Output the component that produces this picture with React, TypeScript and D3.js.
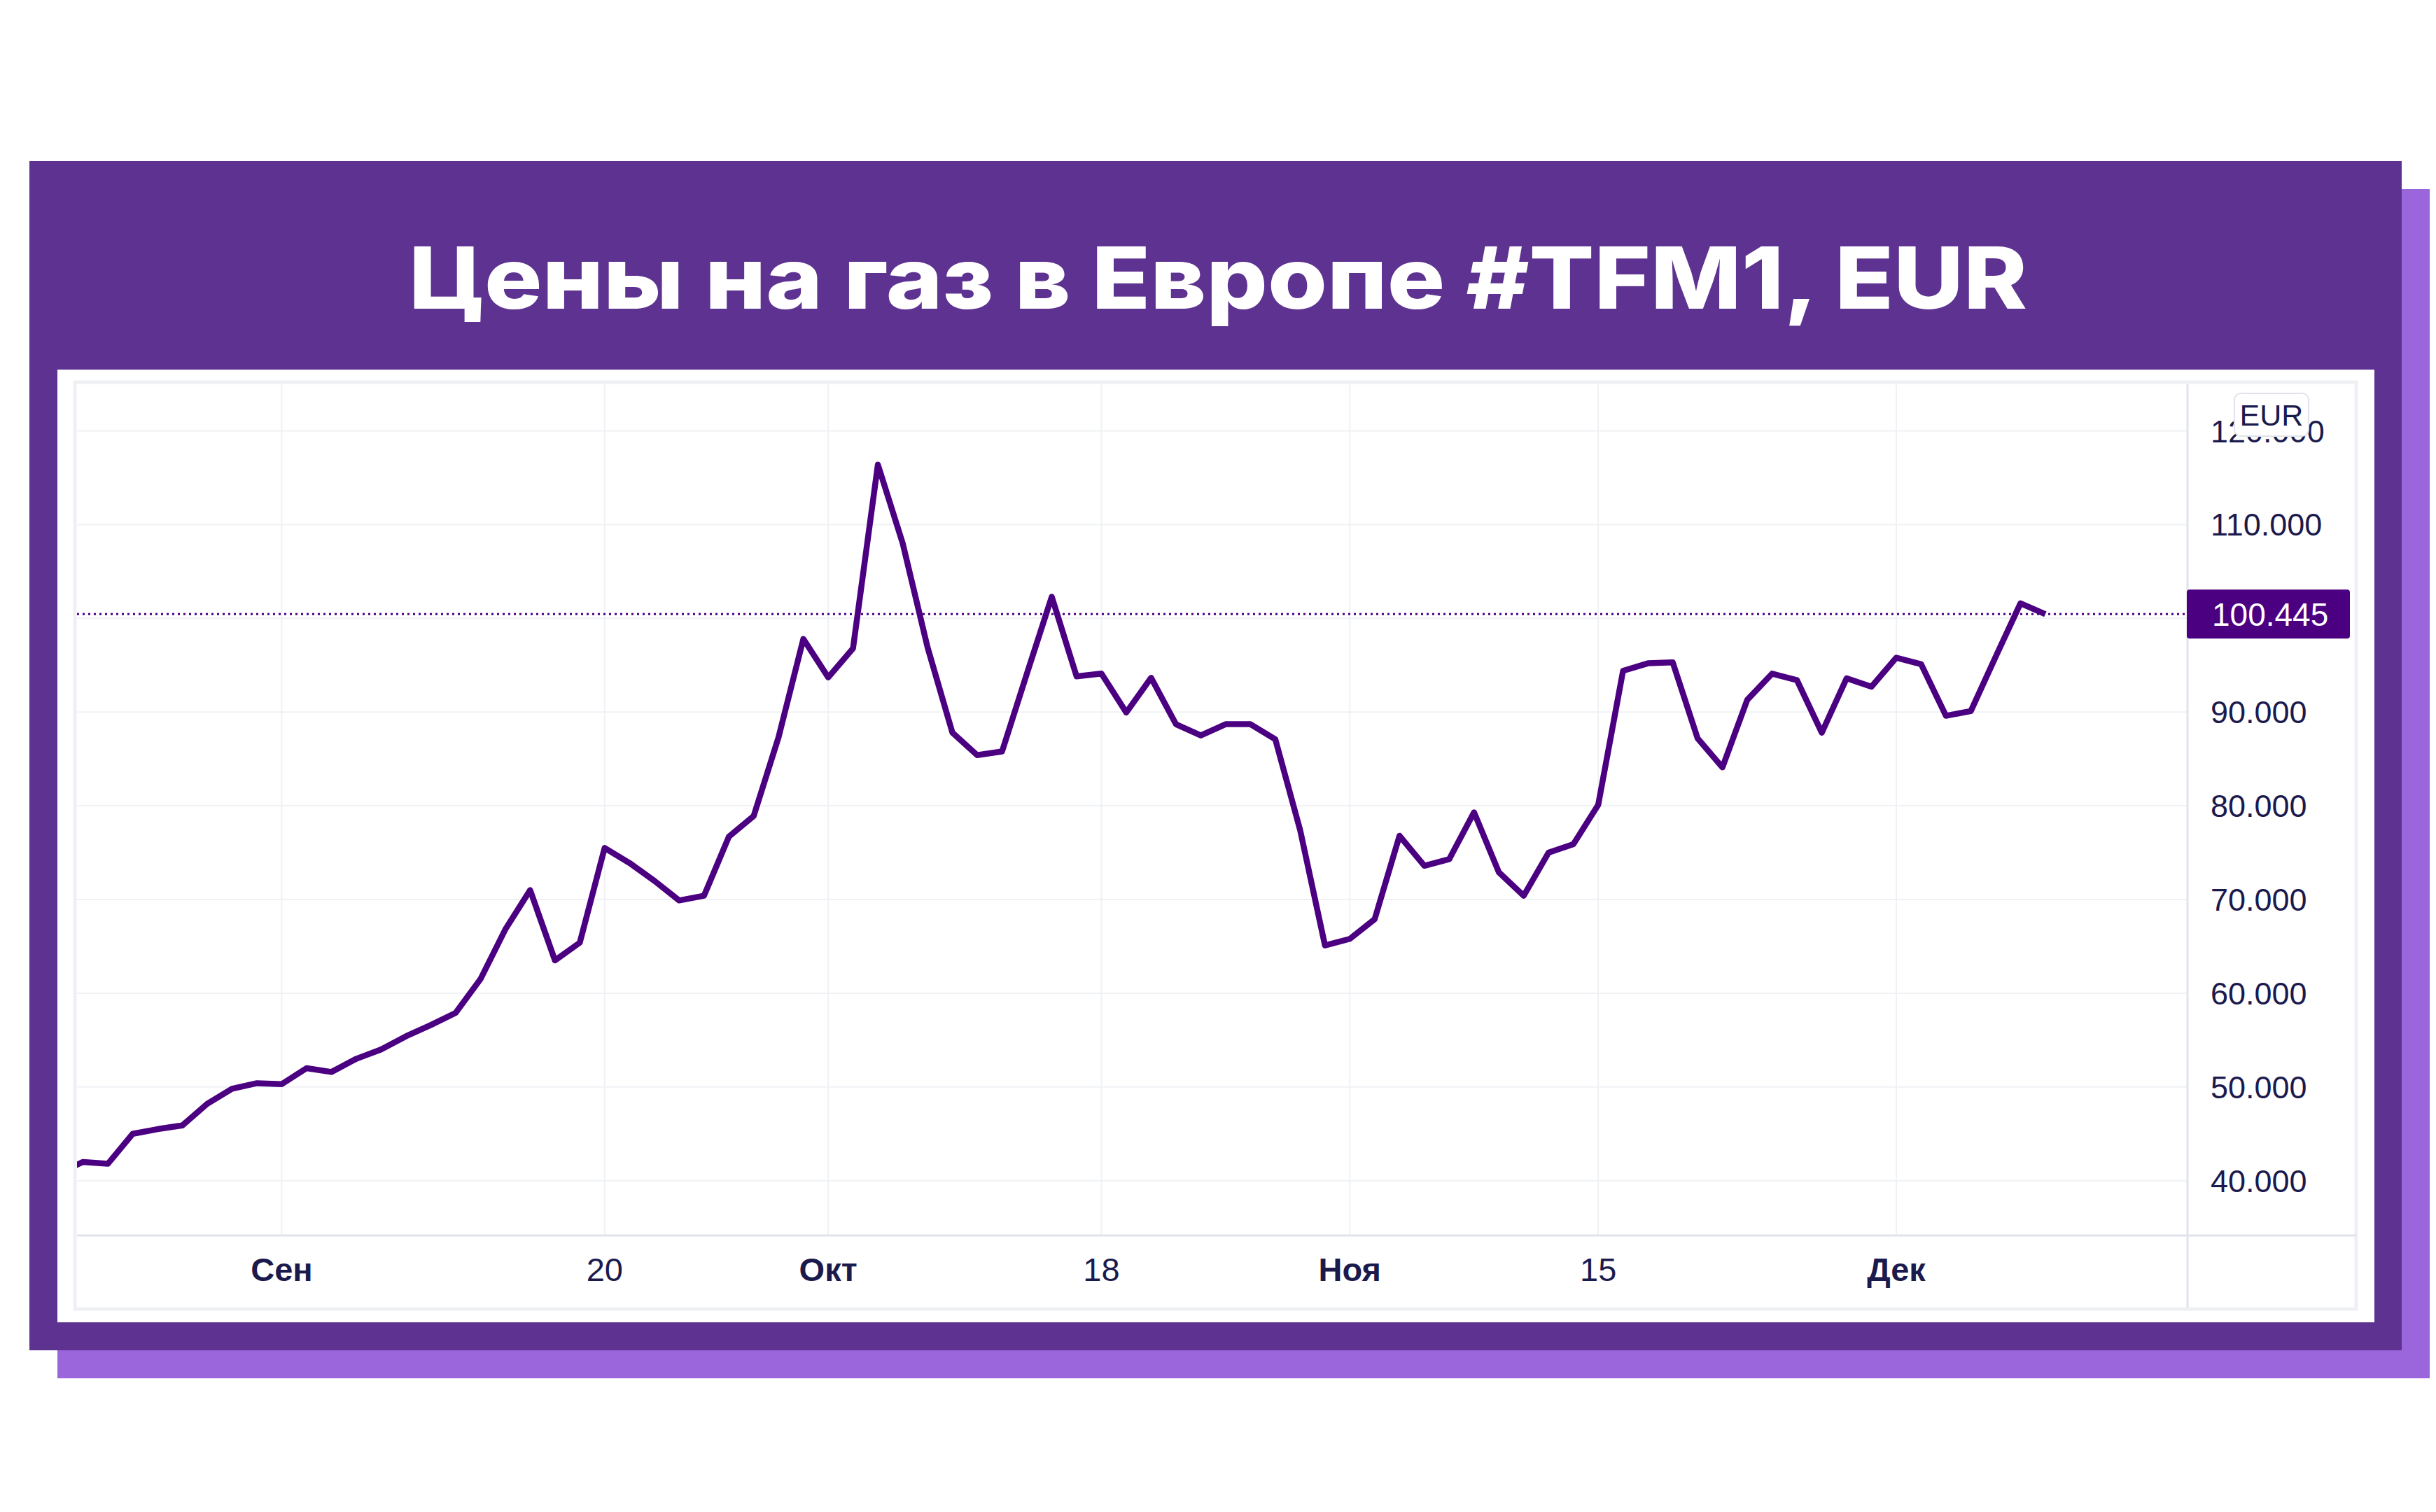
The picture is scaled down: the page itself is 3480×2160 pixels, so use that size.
import React from "react";
import * as d3 from "d3";

// ---- data ----
const dates: string[] = [
  "2021-08-19", "2021-08-20", "2021-08-23", "2021-08-24", "2021-08-25", "2021-08-26", "2021-08-27", "2021-08-30", "2021-08-31",
  "2021-09-01", "2021-09-02", "2021-09-03", "2021-09-06", "2021-09-07", "2021-09-08", "2021-09-09", "2021-09-10",
  "2021-09-13", "2021-09-14", "2021-09-15", "2021-09-16", "2021-09-17", "2021-09-20", "2021-09-21", "2021-09-22",
  "2021-09-23", "2021-09-24", "2021-09-27", "2021-09-28", "2021-09-29", "2021-09-30",
  "2021-10-01", "2021-10-04", "2021-10-05", "2021-10-06", "2021-10-07", "2021-10-08", "2021-10-11", "2021-10-12",
  "2021-10-13", "2021-10-14", "2021-10-15", "2021-10-18", "2021-10-19", "2021-10-20", "2021-10-21", "2021-10-22",
  "2021-10-25", "2021-10-26", "2021-10-27", "2021-10-28", "2021-10-29",
  "2021-11-01", "2021-11-02", "2021-11-03", "2021-11-04", "2021-11-05", "2021-11-08", "2021-11-09", "2021-11-10",
  "2021-11-11", "2021-11-12", "2021-11-15", "2021-11-16", "2021-11-17", "2021-11-18", "2021-11-19", "2021-11-22",
  "2021-11-23", "2021-11-24", "2021-11-25", "2021-11-26", "2021-11-29", "2021-11-30",
  "2021-12-01", "2021-12-02", "2021-12-03", "2021-12-06", "2021-12-07", "2021-12-08", "2021-12-09",
];

const prices: number[] = [
  40.8, 42.0, 41.8, 45.0, 45.5, 45.9, 48.2, 49.8, 50.4,
  50.3, 52.0, 51.6, 53.0, 54.0, 55.4, 56.6, 57.9,
  61.5, 66.8, 71.0, 63.5, 65.4, 75.5, 73.9, 72.0,
  69.9, 70.4, 76.7, 78.9, 87.3, 97.8,
  93.7, 96.8, 116.4, 108.0, 96.9, 87.8, 85.4, 85.8,
  94.1, 102.3, 93.8, 94.1, 89.95, 93.65, 88.7, 87.5,
  88.7, 88.7, 87.1, 77.4, 65.1,
  65.8, 67.9, 76.8, 73.6, 74.3, 79.3, 72.9, 70.4,
  75.0, 75.9, 80.1, 94.4, 95.2, 95.3, 87.2, 84.1,
  91.3, 94.1, 93.4, 87.8, 93.6, 92.7,
  95.8, 95.1, 89.6, 90.1, 95.9, 101.6, 100.445,
];

const xTickDates: string[] = ["2021-09-01", "2021-09-20", "2021-10-01", "2021-10-18", "2021-11-01", "2021-11-15", "2021-12-01"];
const xTickLabels: string[] = ["Сен", "20", "Окт", "18", "Ноя", "15", "Дек"];
const xTickIsMonth: boolean[] = [true, false, true, false, true, false, true];

const yTicks: number[] = [40, 50, 60, 70, 80, 90, 100, 110, 120];

const titleText = "Цены на газ в Европе #TFM1, EUR";
const currencyText = "EUR";

// ---- component ----
export default function App() {
  const W = 3480;
  const H = 2160;

  const plotLeft = 110;
  const plotRight = 3125;
  const plotTop = 549;
  const plotBottom = 1764;

  const x = d3.scalePoint<string>().domain(dates).range([83.1, 2921.9]);
  const y = d3.scaleLinear().domain([40, 120]).range([1686.7, 615.5]);

  const data = dates.map((d, i) => ({ d, v: prices[i] }));
  const line = d3
    .line<{ d: string; v: number }>()
    .x((p) => x(p.d) as number)
    .y((p) => y(p.v));

  const last = prices[prices.length - 1];
  const lastY = y(last);
  const fmt = d3.format(".3f");

  const axisFont = "'Liberation Sans', Arial, sans-serif";
  const textColor = "#1b1a4d";
  const lineColor = "#4b0082";

  return (
    <svg
      width={W}
      height={H}
      viewBox={`0 0 ${W} ${H}`}
      style={{ position: "absolute", left: 0, top: 0, background: "#ffffff" }}
    >
      <defs>
        <clipPath id="plotClip">
          <rect x={plotLeft} y={plotTop} width={plotRight - plotLeft} height={plotBottom - plotTop} />
        </clipPath>
      </defs>
      <rect x={0} y={0} width={W} height={H} fill="#ffffff" />
      {/* shadow */}
      <rect x={82} y={270} width={3389} height={1699} fill="#9b66db" />
      {/* main frame */}
      <rect x={42} y={230} width={3389} height={1699} fill="#5e3291" />
      {/* title */}
      <text
        x={584}
        y={441}
        textLength={2312}
        lengthAdjust="spacingAndGlyphs"
        fill="#ffffff"
        style={{ fontFamily: "Inter, 'Open Sans', sans-serif", fontWeight: 800, fontSize: 122 }}
      >
        {titleText}
      </text>
      {/* white panel */}
      <rect x={82} y={528} width={3310} height={1361} fill="#ffffff" />
      {/* chart border */}
      <rect x={107} y={546} width={3259} height={1324} fill="#ffffff" stroke="#eef0f4" strokeWidth={5} />

      {/* gridlines */}
      {yTicks.map((t) => (
        <line key={"gy" + t} x1={plotLeft} x2={plotRight} y1={y(t)} y2={y(t)} stroke="#eff1f4" strokeWidth={2} />
      ))}
      {xTickDates.map((d) => (
        <line key={"gx" + d} x1={x(d)} x2={x(d)} y1={plotTop} y2={plotBottom} stroke="#eff1f4" strokeWidth={2} />
      ))}

      {/* last price dotted line */}
      <line
        x1={plotLeft}
        x2={plotRight}
        y1={lastY}
        y2={lastY}
        stroke={lineColor}
        strokeWidth={3}
        strokeDasharray="3 5"
      />

      {/* price line */}
      <g clipPath="url(#plotClip)">
        <path
          d={line(data) || ""}
          fill="none"
          stroke={lineColor}
          strokeWidth={8.5}
          strokeLinejoin="round"
          strokeLinecap="butt"
        />
      </g>

      {/* axes separators */}
      <line x1={plotLeft} x2={3366} y1={1765} y2={1765} stroke="#e0e3eb" strokeWidth={3} />
      <line x1={plotRight} x2={plotRight} y1={plotTop} y2={1868} stroke="#e0e3eb" strokeWidth={3} />

      {/* y labels */}
      {yTicks.map((t) => (
        <text
          key={"ly" + t}
          x={3158}
          y={y(t) + 16}
          fill={textColor}
          style={{ fontFamily: axisFont, fontSize: 45 }}
        >
          {fmt(t)}
        </text>
      ))}

      {/* currency badge */}
      <rect x={3192} y={562} width={106} height={61} rx={9} fill="#ffffff" stroke="#e0e3eb" strokeWidth={2} />
      <text
        x={3245}
        y={608}
        textAnchor="middle"
        fill={textColor}
        style={{ fontFamily: axisFont, fontSize: 43 }}
      >
        {currencyText}
      </text>

      {/* last price label */}
      <rect x={3124} y={lastY - 35} width={233} height={70} rx={4} fill={lineColor} />
      <text
        x={3160}
        y={lastY + 17}
        fill="#ffffff"
        style={{ fontFamily: axisFont, fontSize: 46 }}
      >
        {fmt(last)}
      </text>

      {/* x labels */}
      {xTickDates.map((d, i) => (
        <text
          key={"lx" + d}
          x={x(d)}
          y={1830}
          textAnchor="middle"
          fill={textColor}
          style={{ fontFamily: axisFont, fontSize: 47, fontWeight: xTickIsMonth[i] ? 700 : 400 }}
        >
          {xTickLabels[i]}
        </text>
      ))}
    </svg>
  );
}
